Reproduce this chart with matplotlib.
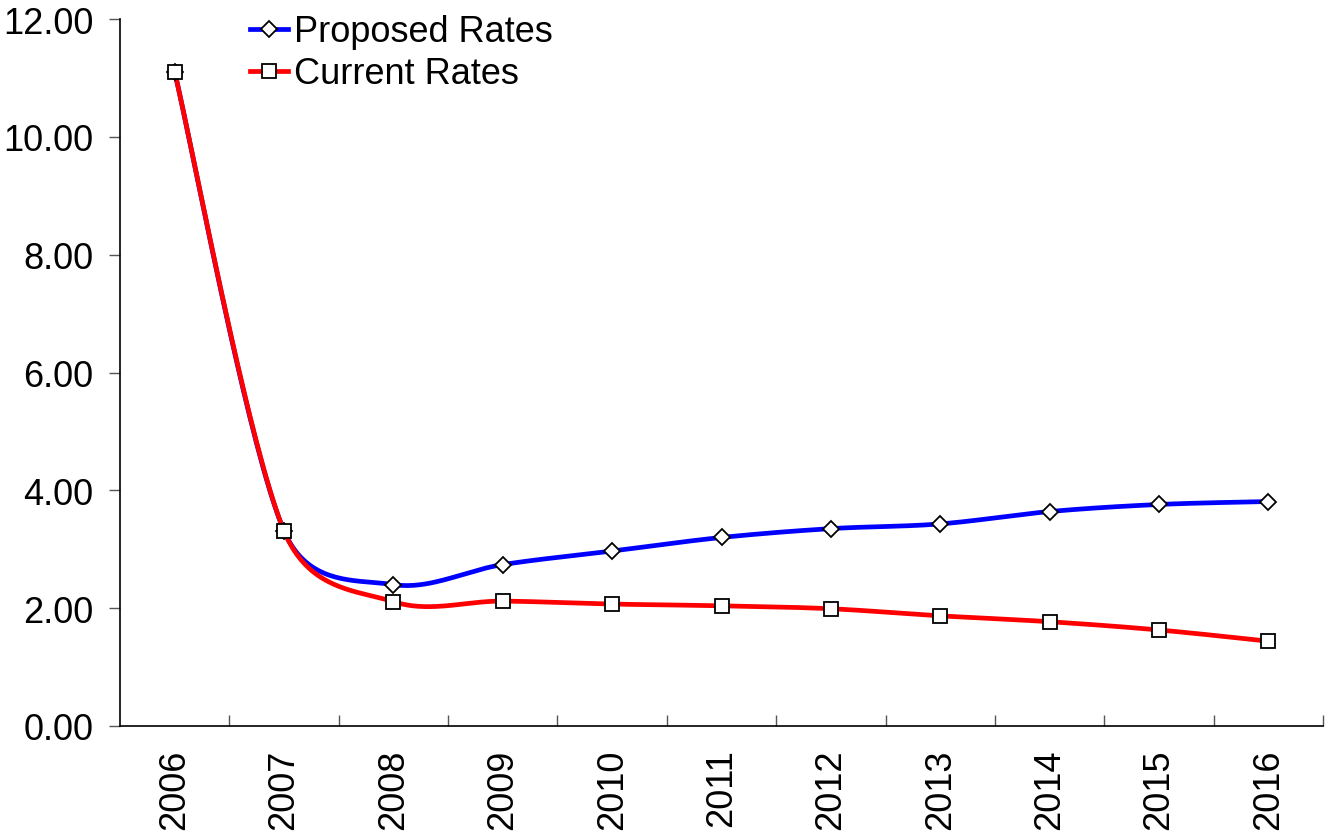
import numpy as np
import matplotlib
matplotlib.use('Agg')
import matplotlib.pyplot as plt
from matplotlib.lines import Line2D

plt.rcParams['font.family'] = ['Liberation Sans', 'DejaVu Sans']

years = ['2006', '2007', '2008', '2009', '2010', '2011',
         '2012', '2013', '2014', '2015', '2016']
proposed = [11.10, 3.31, 2.40, 2.74, 2.97, 3.20, 3.35, 3.43, 3.64, 3.76, 3.81]
current  = [11.10, 3.31, 2.11, 2.12, 2.07, 2.04, 1.99, 1.87, 1.77, 1.63, 1.44]


def smooth(ax, xs, ys, steps=40):
    # spreadsheet-style smoothed line: bezier segments with arms of
    # (next - prev) / 6, capped at half the segment length, in pixels
    pts = ax.transData.transform(np.column_stack([xs, ys]))
    padded = np.vstack([pts[:1], pts, pts[-1:]])
    out = []
    for i in range(len(pts) - 1):
        p0, p1, p2, p3 = padded[i], padded[i + 1], padded[i + 2], padded[i + 3]
        d02 = np.hypot(*(p2 - p0))
        d13 = np.hypot(*(p3 - p1))
        d12 = np.hypot(*(p2 - p1))
        f1 = 1 / 6.0 if d02 / 6.0 < d12 / 2.0 else d12 / (2.0 * d02)
        f2 = 1 / 6.0 if d13 / 6.0 < d12 / 2.0 else d12 / (2.0 * d13)
        c1 = p1 + f1 * (p2 - p0)
        c2 = p2 - f2 * (p3 - p1)
        t = np.linspace(0, 1, steps)[:, None]
        seg = ((1 - t) ** 3 * p1 + 3 * (1 - t) ** 2 * t * c1
               + 3 * (1 - t) * t ** 2 * c2 + t ** 3 * p2)
        out.append(seg if i == 0 else seg[1:])
    seg = ax.transData.inverted().transform(np.vstack(out))
    return seg[:, 0], seg[:, 1]


fig = plt.figure(figsize=(13.27, 8.37), dpi=100)
ax = fig.add_axes([120 / 1327, 1 - 727 / 837, 1203 / 1327, 707 / 837])

x = np.arange(len(years))
ax.set_xlim(-0.5, len(years) - 0.5)
ax.set_ylim(0, 12)

for vals, color, marker, ms in [(proposed, '#0000ff', 'D', 8),
                                (current, '#ff0000', 's', 10)]:
    sx, sy = smooth(ax, x, vals)
    ax.plot(sx, sy, color=color, lw=3.4, solid_capstyle='round', zorder=2)
    ax.plot(x, vals, ls='none', marker=marker, ms=ms, mfc='white',
            mec='black', mew=1.3, zorder=3)

ax.set_yticks(np.arange(0, 12.1, 2))
ax.set_yticklabels(['{:.2f}'.format(v) for v in np.arange(0, 12.1, 2)])
ax.set_xticks(x)
ax.set_xticklabels(years, rotation=90)
ax.set_xticks(np.arange(0.5, len(years), 1), minor=True)

ax.tick_params(axis='y', direction='out', length=8, width=1, pad=11,
               labelsize=26, color='#555555')
ax.tick_params(axis='x', which='major', length=0, pad=16, labelsize=26)
ax.tick_params(axis='x', which='minor', direction='in', length=8, width=1,
               color='#555555')

for side in ['top', 'right']:
    ax.spines[side].set_visible(False)
for side in ['left', 'bottom']:
    ax.spines[side].set_linewidth(1.2)

handles = [Line2D([], [], color='#0000ff', lw=3.4, marker='D', ms=8,
                  mfc='white', mec='black', mew=1.3),
           Line2D([], [], color='#ff0000', lw=3.4, marker='s', ms=10,
                  mfc='white', mec='black', mew=1.3)]
fig.legend(handles, ['Proposed Rates', 'Current Rates'],
           loc='upper left', bbox_to_anchor=(243 / 1327, 1 - 8 / 837),
           frameon=False, fontsize=26, handlelength=1.05,
           handletextpad=0.15, labelspacing=0.2, borderpad=0.2,
           borderaxespad=0)

fig.savefig('out.png', dpi=100)
